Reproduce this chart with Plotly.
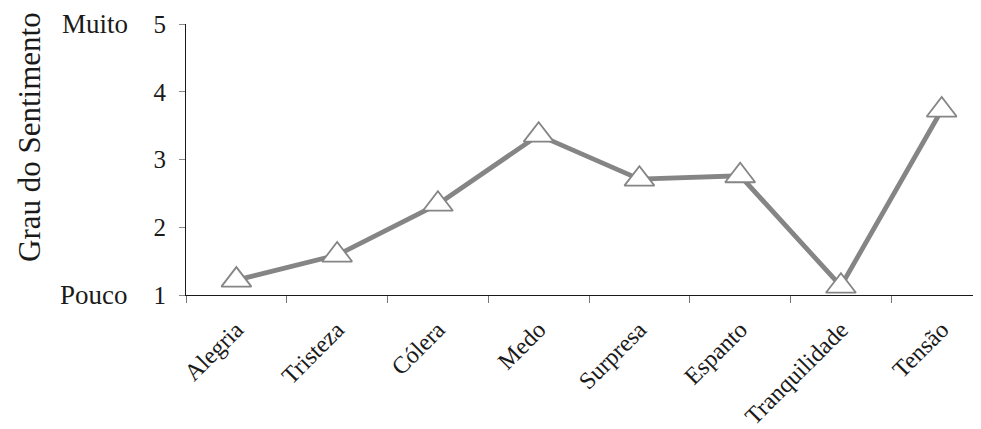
import plotly.graph_objects as go

categories = ["Alegria", "Tristeza", "Cólera", "Medo", "Surpresa", "Espanto", "Tranquilidade", "Tensão"]
values = [1.22, 1.59, 2.34, 3.36, 2.71, 2.76, 1.13, 3.73]
y_ticks = [1, 2, 3, 4, 5]
y_title = "Grau do Sentimento"
high_label = "Muito"
low_label = "Pouco"

FONT = "Liberation Serif"
GRAY = "#858585"

# page body has an 8px default margin; size the figure to fill the 981x429 view
W, H = 973, 421
L, T, B = 178, 16, 134
plot_w = W - L

fig = go.Figure()
fig.add_trace(go.Scatter(
    x=categories, y=values, mode="lines+markers",
    line=dict(color=GRAY, width=4.8),
    marker=dict(symbol="triangle-up", size=26, color="white",
                line=dict(color=GRAY, width=1.8)),
    cliponaxis=False, showlegend=False,
))

fig.update_layout(
    width=W, height=H,
    margin=dict(l=L, r=0, t=T, b=B, autoexpand=False),
    paper_bgcolor="white", plot_bgcolor="white",
    font=dict(family=FONT, color="#1a1a1a"),
    xaxis=dict(
        type="category", range=[-0.5, 7.39],
        showline=True, linecolor="#1a1a1a", linewidth=1.2,
        ticks="outside", tickson="boundaries", ticklen=7, tickcolor="#777",
        tickangle=-45, tickfont=dict(size=24, family=FONT),
        ticklabelstandoff=10,
        showgrid=False, zeroline=False, automargin=False,
    ),
    yaxis=dict(
        range=[1, 5], tickvals=y_ticks,
        showline=True, linecolor="#1a1a1a", linewidth=1.2,
        ticks="outside", ticklen=6, tickcolor="#888",
        tickfont=dict(size=25, family=FONT), ticklabelstandoff=8,
        showgrid=False, zeroline=False, automargin=False,
    ),
    annotations=[
        dict(text=high_label, xref="paper", yref="y", x=-56 / plot_w, y=5,
             xanchor="right", yanchor="middle", showarrow=False,
             font=dict(size=27, family=FONT)),
        dict(text=low_label, xref="paper", yref="y", x=-56 / plot_w, y=1,
             xanchor="right", yanchor="middle", showarrow=False,
             font=dict(size=27, family=FONT)),
        dict(text=y_title, xref="paper", yref="paper", x=-157 / plot_w, y=0.583,
             xanchor="center", yanchor="middle", textangle=-90, showarrow=False,
             borderpad=0, font=dict(size=31, family=FONT)),
    ],
)

fig.write_html("out.html")
